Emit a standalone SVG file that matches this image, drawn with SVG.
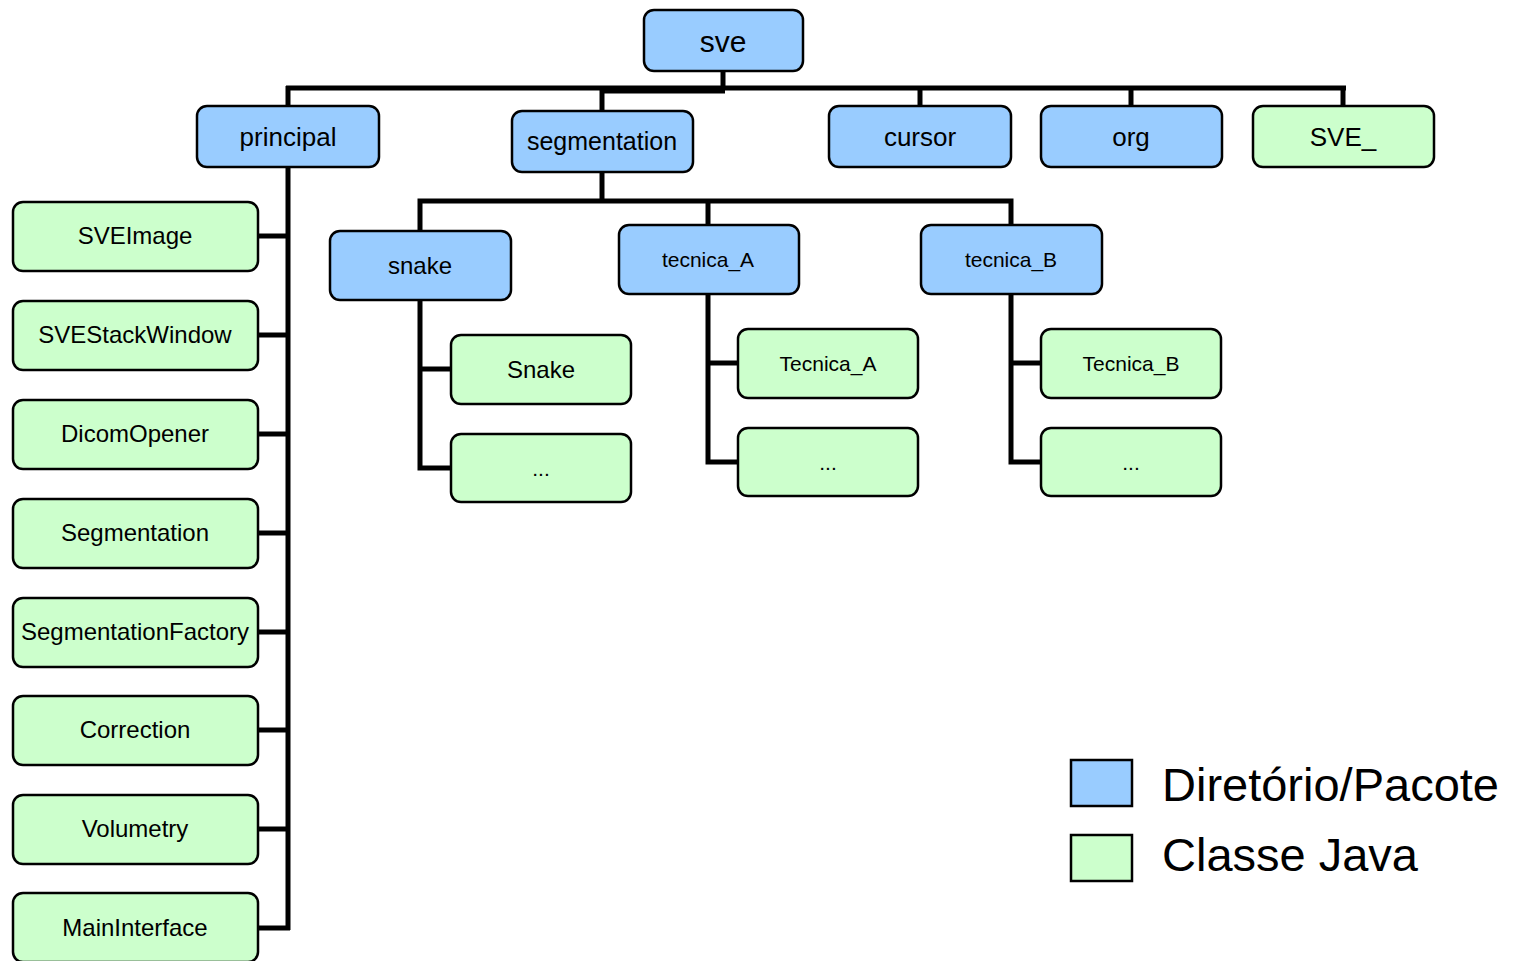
<svg xmlns="http://www.w3.org/2000/svg" width="1514" height="961" viewBox="0 0 1514 961">
<style>
.pkg{fill:#99CCFF;stroke:#000;stroke-width:2.5}
.cls{fill:#CCFFCC;stroke:#000;stroke-width:2.5}
text{font-family:"Liberation Sans",Arial,sans-serif;fill:#000;text-anchor:middle}
.t26{font-size:26px}
.t24{font-size:24px}
.t23{font-size:24px}
.t21{font-size:21px}
.conn line,.conn polyline{stroke:#000;stroke-width:5;fill:none}
.leg{font-size:47px;text-anchor:start}
</style>
<rect width="1514" height="961" fill="#fff"/>
<g class="conn" id="connectors">
<line x1="723" y1="71" x2="723" y2="90"/>
<line x1="286" y1="88" x2="1346" y2="88"/>
<line x1="602" y1="91" x2="725" y2="91"/>
<line x1="288" y1="86" x2="288" y2="106"/>
<line x1="602" y1="88" x2="602" y2="111"/>
<line x1="920" y1="86" x2="920" y2="106"/>
<line x1="1131" y1="86" x2="1131" y2="106"/>
<line x1="1343" y1="86" x2="1343" y2="106"/>
<line x1="288" y1="167" x2="288" y2="930"/>
<line x1="258" y1="236" x2="290" y2="236"/>
<line x1="258" y1="335" x2="290" y2="335"/>
<line x1="258" y1="434" x2="290" y2="434"/>
<line x1="258" y1="533" x2="290" y2="533"/>
<line x1="258" y1="632" x2="290" y2="632"/>
<line x1="258" y1="730" x2="290" y2="730"/>
<line x1="258" y1="829" x2="290" y2="829"/>
<line x1="258" y1="928" x2="290" y2="928"/>
<line x1="602" y1="172" x2="602" y2="203"/>
<polyline points="420,231 420,201 1011,201 1011,225"/>
<line x1="708" y1="201" x2="708" y2="225"/>
<polyline points="420,300 420,468 451,468"/>
<line x1="418" y1="369" x2="451" y2="369"/>
<polyline points="708,294 708,462 738,462"/>
<line x1="706" y1="363" x2="738" y2="363"/>
<polyline points="1011,294 1011,462 1041,462"/>
<line x1="1009" y1="363" x2="1041" y2="363"/>
</g>
<g id="sve"><rect class="pkg" x="644" y="10" width="159" height="61" rx="10"/><text style="font-size:30px" x="723" y="52">sve</text></g>
<g id="principal"><rect class="pkg" x="197" y="106" width="182" height="61" rx="10"/><text class="t26" x="288" y="146">principal</text></g>
<g id="segmentation"><rect class="pkg" x="512" y="111" width="181" height="61" rx="10"/><text style="font-size:25px" x="602" y="150">segmentation</text></g>
<g id="cursor"><rect class="pkg" x="829" y="106" width="182" height="61" rx="10"/><text class="t26" x="920" y="146">cursor</text></g>
<g id="org"><rect class="pkg" x="1041" y="106" width="181" height="61" rx="10"/><text class="t26" x="1131" y="146">org</text></g>
<g id="SVE_"><rect class="cls" x="1253" y="106" width="181" height="61" rx="10"/><text class="t26" x="1343" y="146">SVE_</text></g>
<g id="SVEImage"><rect class="cls" x="13" y="202" width="245" height="69" rx="10"/><text class="t23" x="135" y="244">SVEImage</text></g>
<g id="SVEStackWindow"><rect class="cls" x="13" y="301" width="245" height="69" rx="10"/><text class="t23" x="135" y="343">SVEStackWindow</text></g>
<g id="DicomOpener"><rect class="cls" x="13" y="400" width="245" height="69" rx="10"/><text class="t23" x="135" y="442">DicomOpener</text></g>
<g id="Segmentation"><rect class="cls" x="13" y="499" width="245" height="69" rx="10"/><text class="t23" x="135" y="541">Segmentation</text></g>
<g id="SegmentationFactory"><rect class="cls" x="13" y="598" width="245" height="69" rx="10"/><text class="t23" x="135" y="640">SegmentationFactory</text></g>
<g id="Correction"><rect class="cls" x="13" y="696" width="245" height="69" rx="10"/><text class="t23" x="135" y="738">Correction</text></g>
<g id="Volumetry"><rect class="cls" x="13" y="795" width="245" height="69" rx="10"/><text class="t23" x="135" y="837">Volumetry</text></g>
<g id="MainInterface"><rect class="cls" x="13" y="893" width="245" height="69" rx="10"/><text class="t23" x="135" y="936">MainInterface</text></g>
<g id="snake"><rect class="pkg" x="330" y="231" width="181" height="69" rx="10"/><text class="t24" x="420" y="274">snake</text></g>
<g id="tecnica_A"><rect class="pkg" x="619" y="225" width="180" height="69" rx="10"/><text class="t21" x="708" y="267">tecnica_A</text></g>
<g id="tecnica_B"><rect class="pkg" x="921" y="225" width="181" height="69" rx="10"/><text class="t21" x="1011" y="267">tecnica_B</text></g>
<g id="Snake"><rect class="cls" x="451" y="335" width="180" height="69" rx="10"/><text class="t24" x="541" y="378">Snake</text></g>
<g id="snake_more"><rect class="cls" x="451" y="434" width="180" height="68" rx="10"/><text class="t21" x="541" y="476">...</text></g>
<g id="Tecnica_A"><rect class="cls" x="738" y="329" width="180" height="69" rx="10"/><text class="t21" x="828" y="371">Tecnica_A</text></g>
<g id="tecA_more"><rect class="cls" x="738" y="428" width="180" height="68" rx="10"/><text class="t21" x="828" y="470">...</text></g>
<g id="Tecnica_B"><rect class="cls" x="1041" y="329" width="180" height="69" rx="10"/><text class="t21" x="1131" y="371">Tecnica_B</text></g>
<g id="tecB_more"><rect class="cls" x="1041" y="428" width="180" height="68" rx="10"/><text class="t21" x="1131" y="470">...</text></g>
<g id="legend">
<rect x="1071" y="760" width="61" height="46" fill="#99CCFF" stroke="#000" stroke-width="2.5"/>
<rect x="1071" y="835" width="61" height="46" fill="#CCFFCC" stroke="#000" stroke-width="2.5"/>
<text class="leg" x="1162" y="801">Diretório/Pacote</text>
<text class="leg" x="1162" y="871">Classe Java</text>
</g>
</svg>
